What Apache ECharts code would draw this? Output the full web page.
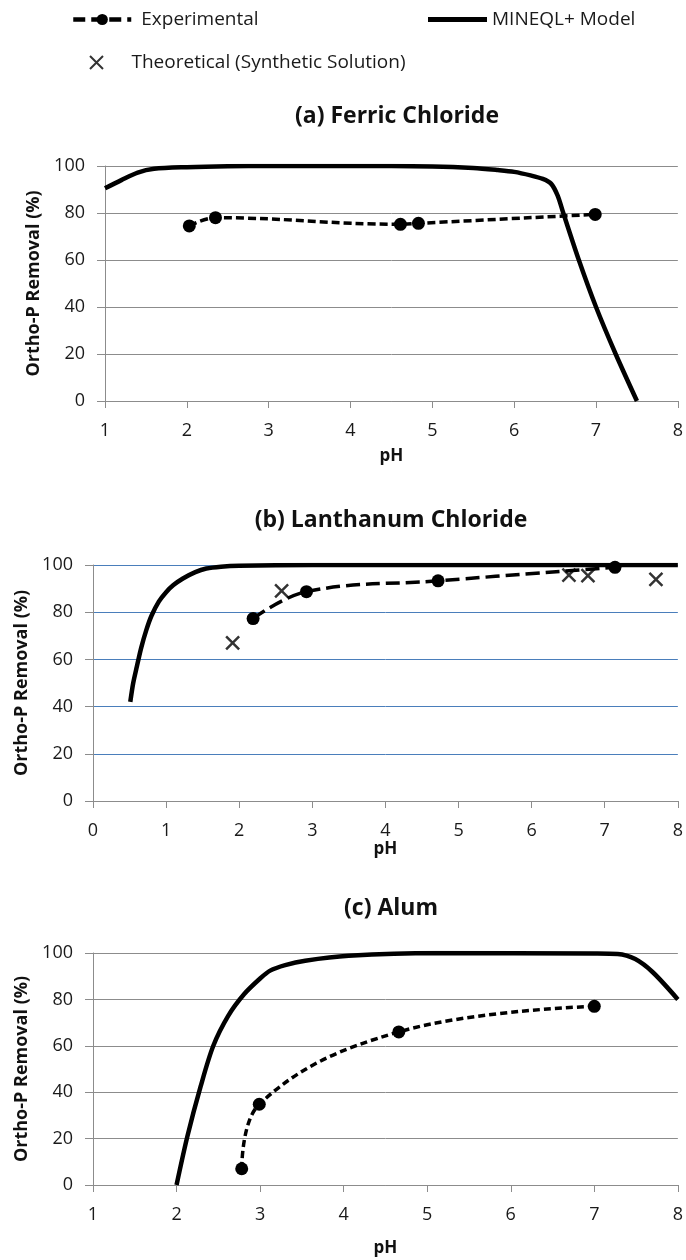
<!DOCTYPE html>
<html>
<head>
<meta charset="utf-8">
<script src="https://cdn.jsdelivr.net/npm/echarts@6/dist/echarts.min.js"></script>
<style>
  html, body { margin: 0; padding: 0; background: #fff; }
  #main { width: 686px; height: 1260px; }
</style>
</head>
<body>
<div id="main"></div>
<script>
// (a) Ferric Chloride
var phA_exp = [2.03, 2.35, 4.61, 4.83, 6.99];
var remA_exp = [74.5, 78, 75.2, 75.6, 79.4];
var phA_model = [1, 1.2, 1.4, 1.6, 2, 2.5, 3, 4, 5, 5.5, 5.8, 6.0, 6.2, 6.35, 6.45, 6.53, 6.6, 6.79, 7.0, 7.24, 7.5];
var remA_model = [90.5, 94, 97.2, 98.8, 99.5, 99.9, 100, 100, 99.8, 99.2, 98.3, 97.5, 96, 94.5, 92.5, 87.5, 80, 60, 40, 20, 0];

// (b) Lanthanum Chloride
var phB_exp = [2.19, 2.92, 4.72, 7.14];
var remB_exp = [77.3, 88.7, 93.3, 99];
var phB_theo = [1.91, 2.58, 6.51, 6.77, 7.7];
var remB_theo = [67, 89, 95.7, 95.5, 93.9];
var phB_model = [0.51, 0.55, 0.6, 0.66, 0.73, 0.8, 0.9, 1.0, 1.1, 1.23, 1.4, 1.55, 1.75, 2.0, 3, 8];
var remB_model = [42, 50, 57, 65, 72.5, 78.5, 84.5, 88.5, 91.5, 94.3, 97, 98.5, 99.3, 99.7, 100, 100];

// (c) Alum
var phC_exp = [2.78, 2.99, 4.66, 7.0];
var remC_exp = [7, 34.8, 66, 77];
var phC_model = [2.0, 2.13, 2.29, 2.44, 2.62, 2.81, 3.0, 3.12, 3.3, 3.54, 4.06, 5.1, 7.0, 7.28, 7.49, 7.7, 8.0];
var remC_model = [0, 21, 42.7, 60, 73, 82.3, 89, 92.4, 94.8, 96.7, 98.8, 100, 99.8, 99.6, 97.4, 91.7, 80];

function pairs(xs, ys) {
  return xs.map(function (x, i) { return [x, ys[i]]; });
}

var FONT = 'Open Sans';
var AXIS_GREY = '#8c8c8c';
var xMark = 'path://M0,0L10,10M10,0L0,10';

function xAx(idx, min, gap) {
  return {
    type: 'value', gridIndex: idx, min: min, max: 8, interval: 1,
    name: 'pH', nameLocation: 'middle', nameGap: gap,
    nameTextStyle: { fontFamily: FONT, fontWeight: 'bold', fontSize: 17, color: '#111' },
    axisLine: { show: true, onZero: false, lineStyle: { color: AXIS_GREY, width: 1 } },
    axisTick: { show: true, length: 7, lineStyle: { color: AXIS_GREY } },
    axisLabel: { fontFamily: FONT, fontSize: 18, color: '#1a1a1a', margin: 21 },
    splitLine: { show: false }
  };
}
function yAx(idx, gridColor) {
  return {
    type: 'value', gridIndex: idx, min: 0, max: 100, interval: 20,
    name: 'Ortho-P Removal (%)', nameLocation: 'middle', nameGap: 60, nameRotate: 90,
    nameTextStyle: { fontFamily: FONT, fontWeight: 'bold', fontSize: 18, color: '#111' },
    axisLine: { show: true, lineStyle: { color: AXIS_GREY, width: 1 } },
    axisTick: { show: true, length: 8, lineStyle: { color: AXIS_GREY } },
    axisLabel: { fontFamily: FONT, fontSize: 18, color: '#1a1a1a', margin: 20 },
    splitLine: { show: true, lineStyle: { color: gridColor, width: 1 } }
  };
}
function modelSeries(idx, xs, ys) {
  return {
    name: 'MINEQL+ Model', type: 'line', xAxisIndex: idx, yAxisIndex: idx,
    data: pairs(xs, ys), showSymbol: false, symbol: 'none', smooth: 0.3,
    lineStyle: { color: '#000', width: 4.5 }, itemStyle: { color: '#000' }, z: 3
  };
}
function expSeries(idx, xs, ys, dash) {
  return {
    name: 'Experimental', type: 'line', xAxisIndex: idx, yAxisIndex: idx,
    data: pairs(xs, ys), smooth: 0.4, symbol: 'circle', symbolSize: 13,
    lineStyle: { color: '#000', width: 3.5, type: dash },
    itemStyle: { color: '#000' }, z: 4
  };
}

var titleStyle = { fontFamily: FONT, fontWeight: 'bold', fontSize: 23, color: '#111' };
var legendText = { fontFamily: FONT, fontSize: 19, color: '#1a1a1a' };

var chart = echarts.init(document.getElementById('main'), null, { renderer: 'canvas' });

chart.setOption({
  backgroundColor: '#fff',
  animation: false,
  title: [
    { text: '(a) Ferric Chloride', left: 392, top: 100, textAlign: 'center', textStyle: titleStyle },
    { text: '(b) Lanthanum Chloride', left: 386, top: 504, textAlign: 'center', textStyle: titleStyle },
    { text: '(c) Alum', left: 386, top: 892, textAlign: 'center', textStyle: titleStyle }
  ],
  legend: [
    { data: ['Experimental'], left: 66, top: 5, itemWidth: 58, itemHeight: 14,
      lineStyle: { type: [12, 6], width: 4.5 },
      textStyle: Object.assign({ padding: [0, 0, 0, 5] }, legendText) },
    { data: [{ name: 'MINEQL+ Model', icon: 'rect' }], left: 423, top: 5, itemWidth: 59, itemHeight: 5,
      textStyle: legendText },
    { data: ['Theoretical (Synthetic Solution)'], left: 84, top: 48, itemWidth: 60, itemHeight: 13,
      textStyle: legendText }
  ],
  grid: [
    { left: 105, right: 7, top: 166, height: 235 },
    { left: 93, right: 6, top: 565, height: 236 },
    { left: 93, right: 5, top: 953, height: 232 }
  ],
  xAxis: [xAx(0, 1, 47), xAx(1, 0, 40), xAx(2, 1, 55)],
  yAxis: [yAx(0, AXIS_GREY), yAx(1, '#4a7ebb'), yAx(2, AXIS_GREY)],
  series: [
    modelSeries(0, phA_model, remA_model),
    expSeries(0, phA_exp, remA_exp, [8, 4]),
    modelSeries(1, phB_model, remB_model),
    expSeries(1, phB_exp, remB_exp, [14, 6]),
    {
      name: 'Theoretical (Synthetic Solution)', type: 'scatter', xAxisIndex: 1, yAxisIndex: 1,
      data: pairs(phB_theo, remB_theo), symbol: xMark, symbolSize: 13,
      itemStyle: { color: 'rgba(0,0,0,0)', borderColor: '#000', borderWidth: 2.5 }, z: 5
    },
    modelSeries(2, phC_model, remC_model),
    expSeries(2, phC_exp, remC_exp, [7, 4])
  ]
});
</script>
</body>
</html>
